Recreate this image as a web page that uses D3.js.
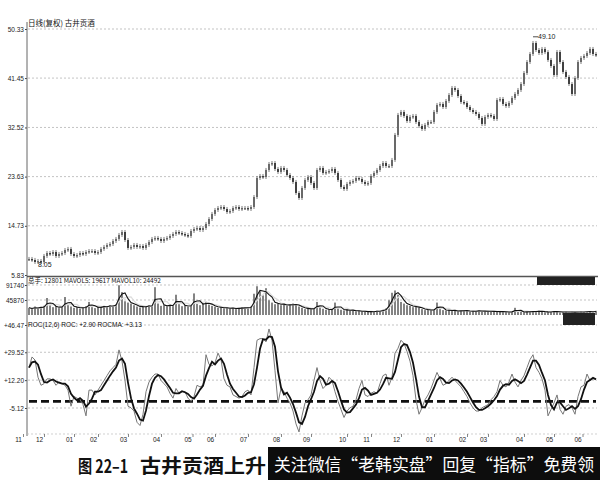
<!DOCTYPE html>
<html>
<head>
<meta charset="utf-8">
<script src="https://cdn.jsdelivr.net/npm/d3@7"></script>
<style>
  body { margin: 0; background: #fff; }
  svg { display: block; }
  text { font-family: "Liberation Sans", "DejaVu Sans", sans-serif; }
</style>
</head>
<body>
<div id="chart"></div>
<script>
// daily closes, sampled about every 2 trading days
var closes = [
  8.73, 8.55, 8.18, 8.36, 8.18, 9.27, 9.81, 9.63, 9.99, 9.27,
  9.63, 9.81, 10.35, 10.54, 9.63, 9.27, 9.45, 9.81, 9.63, 9.99,
  10.17, 10.17, 9.81, 9.99, 10.54, 10.90, 11.26, 11.44, 11.98, 12.35,
  13.07, 13.61, 12.16, 10.72, 10.90, 11.26, 10.90, 11.08, 10.72, 11.26,
  11.80, 12.35, 12.53, 12.35, 11.98, 12.35, 12.53, 12.89, 13.25, 13.61,
  13.43, 13.25, 13.07, 12.89, 13.79, 14.15, 14.33, 13.97, 14.33, 15.06,
  15.96, 16.87, 17.59, 17.95, 18.13, 17.77, 17.23, 17.41, 17.95, 18.13,
  17.77, 17.95, 17.95, 17.77, 18.13, 19.94, 23.38, 23.74, 23.56, 24.83,
  25.91, 26.09, 25.01, 24.47, 25.19, 24.83, 23.92, 23.38, 22.66, 20.67,
  19.76, 21.57, 23.02, 23.56, 22.48, 21.57, 24.83, 25.19, 24.29, 24.47,
  24.65, 25.01, 24.29, 23.02, 21.76, 21.39, 22.30, 22.66, 22.84, 23.38,
  23.20, 22.66, 22.30, 22.48, 23.74, 24.29, 24.83, 25.55, 26.09, 25.55,
  25.55, 26.64, 31.16, 34.78, 35.32, 34.60, 33.69, 34.42, 34.60, 33.51,
  32.79, 32.24, 32.97, 33.51, 33.51, 35.32, 36.59, 36.77, 36.22, 37.31,
  38.39, 39.66, 39.30, 38.21, 37.13, 36.95, 36.22, 35.68, 35.32, 34.96,
  34.23, 33.15, 34.42, 34.78, 34.60, 34.05, 37.49, 37.67, 36.77, 36.41,
  36.95, 37.85, 38.57, 39.30, 40.38, 42.37, 44.36, 45.81, 47.80, 46.53,
  45.99, 46.72, 46.15, 44.73, 43.64, 42.01, 46.17, 44.36, 42.56, 41.65,
  40.38, 38.57, 41.47, 44.36, 45.09, 45.45, 45.99, 46.72, 45.81, 45.63
];

var volumes = [
  22000, 18000, 26000, 20000, 24000, 28000, 52000, 30000, 24000, 27000,
  21000, 25000, 55000, 33000, 26000, 22000, 25000, 19000, 23000, 27000,
  40000, 24000, 21000, 26000, 23000, 28000, 25000, 30000, 27000, 33000,
  91000, 70000, 42000, 38000, 35000, 30000, 26000, 23000, 28000, 25000,
  30000, 27000, 85000, 35000, 28000, 30000, 26000, 32000, 29000, 62000,
  33000, 27000, 30000, 25000, 29000, 66000, 34000, 30000, 36000, 40000,
  32000, 28000, 25000, 22000, 24000, 20000, 23000, 19000, 22000, 18000,
  21000, 24000, 20000, 23000, 26000, 65000, 88000, 72000, 60000, 82000,
  45000, 38000, 33000, 36000, 30000, 34000, 28000, 31000, 35000, 30000,
  26000, 22000, 18000, 21000, 17000, 20000, 40000, 24000, 19000, 16000,
  18000, 15000, 38000, 20000, 16000, 14000, 17000, 13000, 15000, 11000,
  13000, 10000, 12000, 9000, 11000, 10000, 13000, 12000, 16000, 20000,
  45000, 68000, 75000, 62000, 40000, 35000, 30000, 28000, 24000, 26000,
  22000, 18000, 15000, 17000, 14000, 16000, 38000, 18000, 15000, 13000,
  16000, 12000, 14000, 11000, 13000, 15000, 12000, 10000, 13000, 11000,
  14000, 12000, 10000, 13000, 11000, 9000, 12000, 10000, 9000, 11000,
  8000, 10000, 22000, 9000, 11000, 8000, 10000, 12000, 9000, 11000,
  13000, 10000, 8000, 11000, 9000, 12000, 10000, 8000, 9000, 11000,
  7000, 10000, 9000, 8000, 11000, 9000, 10000, 12000, 8000, 12801
];

var rocValues = [
  20, 26.6, 24.7, 14, 9, 10, 13, 13, 12, 9,
  11, 10, 9, 6, -4, 2, 1, 0, -3, -10,
  6, 6, 3, 6, 9, 12, 15, 18, 20, 22,
  31, 24, 12, -4, -5, -7, -14, -16, -9, 5,
  11, 14, 16, 16, 12, 10, 8, 4, 1, 7,
  4, 5, 5, 1, -1, 2, 9, 8, 9, 28,
  22, 21, 23, 29, 25, 13, 9, 8, 3, 2,
  1, 2, 5, 6, 3, 20, 37, 38, 38, 36,
  44, 37, 18, -2, 7, 5, 1, -2, -7, -15,
  -20, -10, -2, 0, 3, 12, 20, 12, 7, 9,
  14, 12, 5, -1, -6, -11, -7, -5, -4, 0,
  7, 12, 3, 2, 4, 5, 4, 10, 15, 16,
  9, 14, 29, 32, 37, 35, 30, 24, 15, 0,
  -9, -5, 0, 3, 7, 12, 17, 13, 9, 10,
  12, 14, 12, 10, 8, 5, 2, -2, -5, -7,
  -7, -5, -4, -3, 0, 2, 5, 12, 9, 8,
  11, 16, 11, 8, 12, 15, 20, 25, 28, 20,
  17, 13, 6, -10, -6, -2, 3, -6, -9, -4,
  -3, -5, -9, 2, 8, 9, 16, 12, 13, 13
];

var priceTicks = [5.83, 14.73, 23.63, 32.52, 41.45, 50.33];
var volTicks = [45870, 91740];
var rocTicks = [-5.12, 12.20, 29.52, 46.47];
var rocRef = -1;

var monthLabels = ["11", "12", "01", "02", "03", "04", "05", "06", "07", "08",
                   "09", "10", "11", "12", "01", "02", "03", "04", "05", "06"];
var monthIdx = [-3.5, 3.5, 13.5, 21.5, 31.5, 42.5, 53, 60.5, 71.5, 82.5,
                92.5, 104.5, 112.5, 122.5, 133.5, 144.5, 151.5, 163.5, 173.5, 183];

var hiLabel = "49.10", loLabel = "8.05";

var width = 600, height = 480;

var svg = d3.select("#chart").append("svg")
  .attr("width", width).attr("height", height);

var x = d3.scaleLinear().domain([0, closes.length - 1]).range([29, 596]);
var yP = d3.scaleLinear().domain([5.83, 50.33]).range([275, 29]);
var yV = d3.scaleLinear().domain([0, 91740]).range([315, 285]);
var yR = d3.scaleLinear().domain([-5.12, 46.47]).range([408, 325]);

// trailing moving average (points are ~2 days, so 3 pts ~ 6 days)
function movAvg(arr, k) {
  return arr.map(function(d, i) {
    var s = arr.slice(Math.max(0, i - k + 1), i + 1);
    return d3.mean(s);
  });
}

// grid lines
function grid(ticks, y) {
  svg.append("g").selectAll("line").data(ticks).enter().append("line")
    .attr("x1", 28).attr("x2", 597)
    .attr("y1", function(d) { return y(d); })
    .attr("y2", function(d) { return y(d); })
    .style("stroke", "#aaa").style("stroke-width", 0.7)
    .style("stroke-dasharray", "2,2");
}
grid(priceTicks.slice(1), yP);
grid(volTicks, yV);
grid(rocTicks, yR);

// left axes
function leftAxis(y, ticks, fmt) {
  var g = svg.append("g").attr("transform", "translate(27,0)")
    .call(d3.axisLeft(y).tickValues(ticks).tickSize(2).tickFormat(fmt));
  g.select(".domain").remove();
  g.selectAll("line").style("stroke", "#444");
  g.selectAll("text").attr("x", -3).style("font-size", "6.5px")
    .style("fill", "#222").style("font-family", "'Liberation Sans', sans-serif");
}
leftAxis(yP, priceTicks, d3.format(".2f"));
leftAxis(yV, volTicks, d3.format("d"));
leftAxis(yR, rocTicks, function(v) { return (v >= 0 ? "+" : "") + v.toFixed(2); });

svg.append("line").attr("x1", 27).attr("x2", 27).attr("y1", 22).attr("y2", 436)
  .style("stroke", "#666").style("stroke-width", 1);

// panel separator under price
svg.append("line").attr("x1", 27).attr("x2", 598).attr("y1", 276.5).attr("y2", 276.5)
  .style("stroke", "#555").style("stroke-width", 1.6);
svg.append("line").attr("x1", 27).attr("x2", 597).attr("y1", 434).attr("y2", 434)
  .style("stroke", "#bbb").style("stroke-width", 0.7).style("stroke-dasharray", "2,2");

// candles: body from previous close to close
var cd = closes.map(function(c, i) {
  return { i: i, o: i ? closes[i - 1] : c, c: c };
});
svg.append("g").selectAll("line").data(cd).enter().append("line")
  .attr("x1", function(d) { return x(d.i); })
  .attr("x2", function(d) { return x(d.i); })
  .attr("y1", function(d) { return yP(Math.max(d.o, d.c)) - 2; })
  .attr("y2", function(d) { return yP(Math.min(d.o, d.c)) + 2; })
  .style("stroke", "#444").style("stroke-width", 0.7);
svg.append("g").selectAll("rect").data(cd).enter().append("rect")
  .attr("x", function(d) { return x(d.i) - 0.8; })
  .attr("width", 1.6)
  .attr("y", function(d) { return yP(Math.max(d.o, d.c)); })
  .attr("height", function(d) { return Math.max(1.5, Math.abs(yP(d.o) - yP(d.c))); })
  .style("fill", function(d) { return d.c >= d.o ? "#555" : "#222"; });

// high / low markers
var hiI = d3.maxIndex(closes), loI = d3.minIndex(closes);
svg.append("line").attr("x1", x(hiI)).attr("x2", x(hiI) + 5)
  .attr("y1", yP(+hiLabel) + 1).attr("y2", yP(+hiLabel) + 1)
  .style("stroke", "#222").style("stroke-width", 0.8);
svg.append("text").attr("x", x(hiI) + 5).attr("y", yP(+hiLabel) + 3.5)
  .text(hiLabel).style("font-size", "7px").style("fill", "#222");
svg.append("text").attr("x", x(loI) + 3).attr("y", yP(+loLabel) + 4)
  .text(loLabel).style("font-size", "7px").style("fill", "#222");

// volume bars + MAs
svg.append("g").selectAll("rect").data(volumes).enter().append("rect")
  .attr("x", function(d, i) { return x(i) - 0.8; })
  .attr("width", 1.6)
  .attr("y", function(d) { return yV(d); })
  .attr("height", function(d) { return yV(0) - yV(d); })
  .style("fill", "#666");

var mv5 = movAvg(volumes, 3), mv10 = movAvg(volumes, 5);
var vLine = d3.line().x(function(d, i) { return x(i); }).y(function(d) { return yV(d); });
svg.append("path").attr("d", vLine(mv10)).style("fill", "none")
  .style("stroke", "#ddd").style("stroke-width", 1.2);
svg.append("path").attr("d", vLine(mv5)).style("fill", "none")
  .style("stroke", "#111").style("stroke-width", 1.1);

// ROC
var rocMa = movAvg(rocValues, 3);
var rLine = d3.line().x(function(d, i) { return x(i); }).y(function(d) { return yR(d); });
svg.append("line").attr("x1", 29).attr("x2", 596)
  .attr("y1", yR(rocRef)).attr("y2", yR(rocRef))
  .style("stroke", "#111").style("stroke-width", 2.6).style("stroke-dasharray", "8,4");
svg.append("path").attr("d", rLine(rocValues)).style("fill", "none")
  .style("stroke", "#777").style("stroke-width", 1);
svg.append("path").attr("d", rLine(rocMa)).style("fill", "none")
  .style("stroke", "#111").style("stroke-width", 1.8);

// month axis
svg.append("g").selectAll("text").data(monthLabels).enter().append("text")
  .attr("x", function(d, i) { return x(monthIdx[i]); })
  .attr("y", 442)
  .attr("text-anchor", "middle")
  .text(function(d) { return d; })
  .style("font-size", "6.5px").style("fill", "#222");
svg.append("g").selectAll("line").data(monthIdx).enter().append("line")
  .attr("x1", function(d) { return x(d) + 5; })
  .attr("x2", function(d) { return x(d) + 5; })
  .attr("y1", 434).attr("y2", 437)
  .style("stroke", "#555").style("stroke-width", 0.7);

// headers
svg.append("text").attr("x", 28).attr("y", 26).text("日线(复权)  古井贡酒")
  .style("font-family", "'Noto Sans CJK SC', sans-serif").style("font-size", "7.5px").style("fill", "#111");
svg.append("text").attr("x", 28).attr("y", 283).text("总手: 12801  MAVOL5: 19617  MAVOL10: 24492")
  .style("font-family", "'Noto Sans CJK SC', sans-serif").style("font-size", "6.5px").style("fill", "#111");
svg.append("text").attr("x", 28).attr("y", 327).text("ROC(12,6)  ROC: +2.90  ROCMA: +3.13")
  .style("font-size", "6.5px").style("fill", "#111");

// dark blocks on the right
svg.append("rect").attr("x", 537).attr("y", 277).attr("width", 58).attr("height", 8).style("fill", "#222");
svg.append("rect").attr("x", 563).attr("y", 313).attr("width", 32).attr("height", 12).style("fill", "#222");

// caption
svg.append("text").attr("x", 78).attr("y", 473).text("图 22–1")
  .attr("textLength", 50).attr("lengthAdjust", "spacingAndGlyphs")
  .style("font-family", "'Noto Sans CJK SC', sans-serif").style("font-weight", "bold")
  .style("font-size", "18px").style("fill", "#111");
svg.append("text").attr("x", 140).attr("y", 473).text("古井贡酒上升")
  .attr("textLength", 126).attr("lengthAdjust", "spacingAndGlyphs")
  .style("font-family", "'Noto Sans CJK SC', sans-serif").style("font-weight", "bold")
  .style("font-size", "19px").style("fill", "#111");
svg.append("rect").attr("x", 268).attr("y", 447).attr("width", 332).attr("height", 33)
  .style("fill", "#0d0d0d");
svg.append("text").attr("x", 274).attr("y", 471).text("关注微信“老韩实盘”回复“指标”免费领")
  .attr("textLength", 320).attr("lengthAdjust", "spacingAndGlyphs")
  .style("font-family", "'Noto Sans CJK SC', sans-serif")
  .style("font-size", "17px").style("fill", "#fff");
</script>
</body>
</html>
